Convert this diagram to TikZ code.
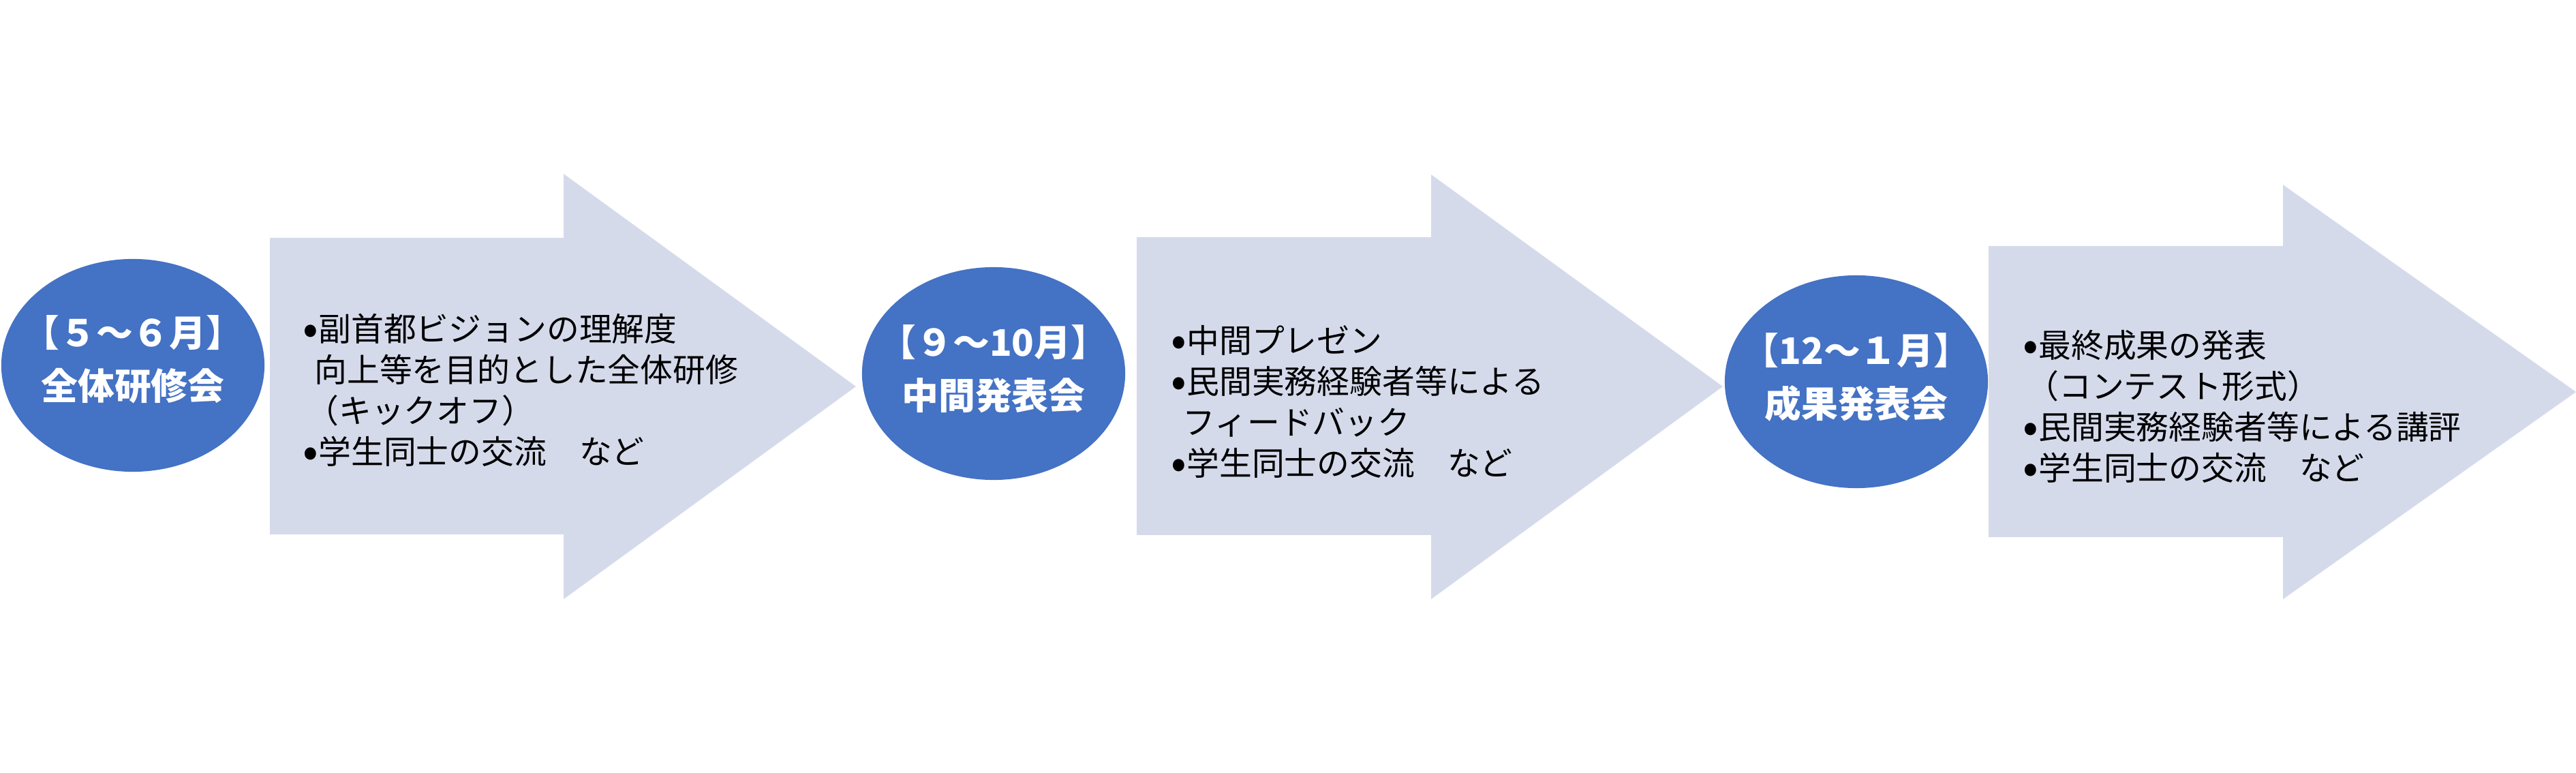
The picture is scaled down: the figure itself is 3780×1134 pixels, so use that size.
\documentclass[tikz,border=0pt]{standalone}
\usepackage{fontspec}
\setmainfont{Noto Sans CJK JP}
\usetikzlibrary{positioning,shapes.geometric}
\definecolor{periodblue}{RGB}{68,114,196}
\definecolor{stagefill}{RGB}{213,218,235}
\newcommand*{\stagedot}{\raisebox{-0.1em}{\fontsize{19}{0}\selectfont •}}
\tikzset{
  periodbox/.style={ellipse, fill=periodblue, minimum width=3.86cm, minimum height=3.12cm, inner sep=0pt},
  periodtitle/.style={text=white, align=center, inner sep=0pt, font=\fontsize{15.3}{22.2}\selectfont\bfseries},
  stagearrow/.style={fill=stagefill},
  stagetext/.style={anchor=west, align=left, inner sep=0pt, font=\fontsize{13.6}{17.07}\selectfont}
}

\begin{document}
\begin{tikzpicture}[x=0.01cm, y=-0.01cm]
\useasboundingbox (0,0) rectangle (3780,1134);

\fill[stagearrow] (396,349) -- (827,349) -- (827,255) -- (1256,567) -- (827,879) -- (827,784) -- (396,784) -- cycle;
\fill[stagearrow] (1668,348) -- (2100,348) -- (2100,256) -- (2528,567) -- (2100,879) -- (2100,785) -- (1668,785) -- cycle;
\fill[stagearrow] (2918,361) -- (3350,361) -- (3350,271) -- (3780,575) -- (3350,879) -- (3350,788) -- (2918,788) -- cycle;

\node (P1) [periodbox] at (195,536) {};
\node (P2) [periodbox] at (1458,548) {};
\node (P3) [periodbox] at (2724,560) {};

\node (T1) [periodtitle] at (195,527) {【５～６月】\\全体研修会};
\node (T2) [periodtitle] at (1458,541) {【９～10月】\\中間発表会};
\node (T3) [periodtitle] at (2724,553) {【12～１月】\\成果発表会};

\node (S1) [stagetext] at (444,573) {\stagedot 副首都ビジョンの理解度\\\hspace{0.35em}向上等を目的とした全体研修\\\hspace{0.1em}（キックオフ）\\\stagedot 学生同士の交流　など};
\node (S2) [stagetext] at (1718,590) {\stagedot 中間プレゼン\\\stagedot 民間実務経験者等による\\\hspace{0.35em}フィードバック\\\stagedot 学生同士の交流　など};
\node (S3) [stagetext] at (2968,597) {\stagedot 最終成果の発表\\\hspace{0.1em}（コンテスト形式）\\\stagedot 民間実務経験者等による講評\\\stagedot 学生同士の交流　など};
\end{tikzpicture}
\end{document}
